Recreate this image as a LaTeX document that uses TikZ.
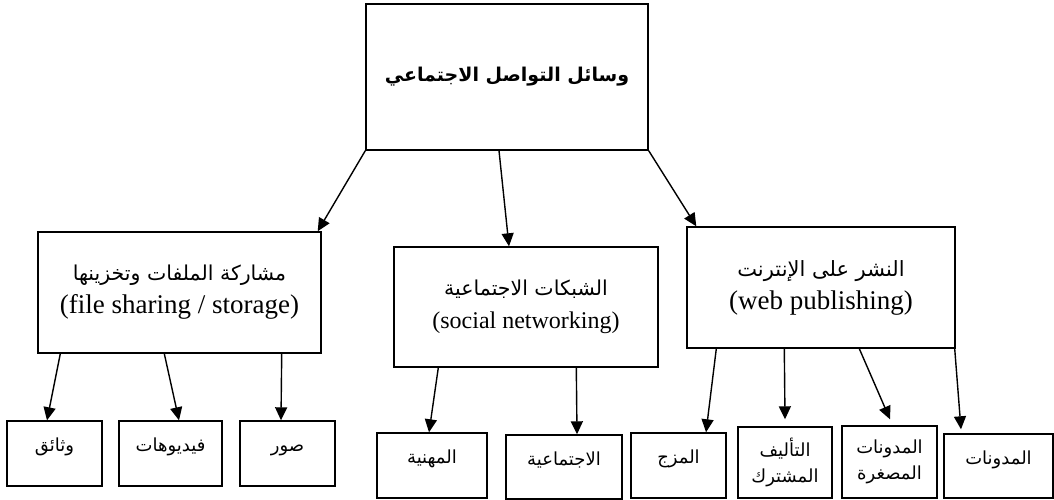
\documentclass[tikz,border=0pt]{standalone}
\usepackage{fontspec}
\setmainfont{Liberation Serif}
\newfontfamily\arabicfont[Script=Arabic]{DejaVu Sans}
\TeXXeTstate=1
\usetikzlibrary{arrows.meta}
\newcommand{\artext}[1]{{\arabicfont\beginR #1\endR}}

\begin{document}
\begin{tikzpicture}[x=1pt, y=-1pt,
  box/.style={draw,line width=1.4pt,inner sep=0pt,align=center},
  midbox/.style={box,font=\fontsize{27}{33}\selectfont},
  leaf/.style={box,font=\arabicfont\fontsize{18}{26}\selectfont},
  leafone/.style={leaf,text height=12pt,text depth=16pt},
  arr/.style={line width=1.4pt,-{Triangle[length=13pt,width=12pt]}}]
\useasboundingbox (0,0) rectangle (1054,500);
% --- top ---
\node[box,minimum width=282pt,minimum height=146pt,
  font=\arabicfont\bfseries\fontsize{19}{26}\selectfont] (top) at (507,77)
  {\beginR وسائل التواصل الاجتماعي\endR};
% --- middle row ---
\node[midbox,minimum width=283pt,minimum height=121pt] (files) at (179.5,292.5)
  {\artext{\fontsize{20.5}{26}\selectfont مشاركة الملفات وتخزينها}\\(file sharing / storage)};
\node[midbox,minimum width=264pt,minimum height=120pt,
  font=\fontsize{24}{33}\selectfont] (social) at (526,307)
  {\artext{\fontsize{20.5}{26}\selectfont الشبكات الاجتماعية}\\(social networking)};
\node[midbox,minimum width=268pt,minimum height=121pt] (web) at (821,287.5)
  {\artext{\fontsize{21}{26}\selectfont النشر على الإنترنت}\\(web publishing)};
% --- leaves ---
\node[leafone,minimum width=95pt,minimum height=65pt] (docs) at (54.5,453.5) {\beginR وثائق\endR};
\node[leafone,minimum width=103pt,minimum height=65pt] (videos) at (170.5,453.5) {\beginR فيديوهات\endR};
\node[leafone,minimum width=95pt,minimum height=65pt] (photos) at (287.5,453.5) {\beginR صور\endR};
\node[leafone,minimum width=110pt,minimum height=65pt] (prof) at (432,465.5) {\beginR المهنية\endR};
\node[leafone,minimum width=116pt,minimum height=64pt] (soc) at (564,467) {\beginR الاجتماعية\endR};
\node[leafone,minimum width=95pt,minimum height=65pt] (mash) at (678.5,465.5) {\beginR المزج\endR};
\node[leaf,minimum width=94pt,minimum height=71pt] (collab) at (785,462.5)
  {\beginR التأليف\endR\\\beginR المشترك\endR};
\node[leaf,minimum width=95pt,minimum height=72pt] (micro) at (889.5,462)
  {\beginR المدونات\endR\\\beginR المصغرة\endR};
\node[leafone,minimum width=109pt,minimum height=64pt] (blogs) at (998.5,466) {\beginR المدونات\endR};
% --- arrows ---
\draw[arr] (top.south west) -- ([xshift=-4pt]files.north east);
\draw[arr] ([xshift=-8pt]top.south) -- ([xshift=-17pt]social.north);
\draw[arr] (top.south east) -- ([xshift=10pt]web.north west);
\draw[arr] ([xshift=23pt]files.south west) -- ([xshift=-7.5pt]docs.north);
\draw[arr] ([xshift=127pt]files.south west) -- ([xshift=8.5pt]videos.north);
\draw[arr] ([xshift=-40pt]files.south east) -- ([xshift=-6.5pt]photos.north);
\draw[arr] ([xshift=45pt]social.south west) -- ([xshift=-3pt]prof.north);
\draw[arr] ([xshift=183pt]social.south west) -- ([xshift=13pt]soc.north);
\draw[arr] ([xshift=30pt]web.south west) -- ([xshift=27.5pt]mash.north);
\draw[arr] ([xshift=98pt]web.south west) -- ([yshift=7pt]collab.north);
\draw[arr] ([xshift=173pt]web.south west) -- ([xshift=0.5pt,yshift=6pt]micro.north);
\draw[arr] ([xshift=-1pt]web.south east) -- ([xshift=-37.5pt,yshift=4pt]blogs.north);
\end{tikzpicture}
\end{document}
